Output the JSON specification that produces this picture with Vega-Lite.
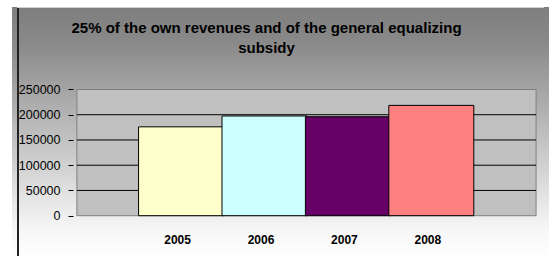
{
  "$schema": "https://vega.github.io/schema/vega-lite/v6.json",
  "width": 537,
  "height": 252,
  "autosize": {"type": "none"},
  "padding": {"left": 12, "top": 7, "right": 0, "bottom": 0},
  "background": "#ffffff",
  "view": {
    "fill": {"gradient": "linear", "x1": 0, "y1": 0, "x2": 0, "y2": 1,
      "stops": [{"offset": 0, "color": "#7e7e7e"}, {"offset": 0.15, "color": "#8a8a8a"}, {"offset": 0.88, "color": "#f6f6f6"}, {"offset": 1, "color": "#ffffff"}]},
    "stroke": null
  },
  "title": {
    "text": ["25% of the own revenues and of the general equalizing", "subsidy"],
    "font": "Liberation Sans",
    "fontSize": 15,
    "fontWeight": "bold",
    "color": "#000000",
    "lineHeight": 20,
    "anchor": "middle",
    "frame": "group",
    "offset": -50,
    "dx": -14
  },
  "layer": [
    {
      "data": {"values": [{}]},
      "mark": {"type": "rect", "fill": "#c0c0c0", "stroke": "#808080", "strokeWidth": 1},
      "encoding": {
        "x": {"datum": 2003.751, "type": "quantitative", "title": null,
          "scale": {"domain": [2003.033, 2009.351], "nice": false, "zero": false},
          "axis": {"values": [2005, 2006, 2007, 2008], "format": "d", "offset": -43, "domain": false, "ticks": false, "grid": false, "labelPadding": 18, "labelFont": "Liberation Sans", "labelColor": "#000000", "labelFontWeight": "bold", "labelFontSize": 12, "labelOffset": -4}},
        "x2": {"datum": 2009.256},
        "y": {"datum": 0, "type": "quantitative", "title": null,
          "scale": {"domain": [-85800, 413400], "nice": false, "zero": false},
          "axis": {"values": [0, 50000, 100000, 150000, 200000, 250000], "format": "d", "offset": -61, "domain": false, "ticks": true, "grid": false, "tickSize": 5, "tickColor": "#000000", "labelPadding": 8, "labelFont": "Liberation Sans", "labelColor": "#000000", "labelFontSize": 12.5}},
        "y2": {"datum": 250000}
      }
    },
    {
      "data": {"values": [{"g": 50000}, {"g": 100000}, {"g": 150000}, {"g": 200000}]},
      "mark": {"type": "rule", "color": "#000000", "strokeWidth": 1},
      "encoding": {
        "y": {"field": "g", "type": "quantitative", "title": null},
        "x": {"datum": 2003.751, "type": "quantitative", "title": null},
        "x2": {"datum": 2009.256}
      }
    },
    {
      "data": {"values": [{}]},
      "mark": {"type": "rule", "color": "#222222", "strokeWidth": 2},
      "encoding": {
        "x": {"datum": 2003.045, "type": "quantitative", "title": null},
        "y": {"datum": -85800, "type": "quantitative", "title": null},
        "y2": {"datum": 413400}
      }
    },
    {
      "data": {"values": [{}]},
      "mark": {"type": "rule", "color": "#d0d0d0", "strokeWidth": 1},
      "encoding": {
        "y": {"datum": 412400, "type": "quantitative", "title": null},
        "x": {"datum": 2003.033, "type": "quantitative", "title": null},
        "x2": {"datum": 2009.351}
      }
    },
    {
      "data": {"values": [
        {"year": 2005, "value": 176000},
        {"year": 2006, "value": 197500},
        {"year": 2007, "value": 196000},
        {"year": 2008, "value": 218500}
      ]},
      "mark": {"type": "bar", "width": 85, "stroke": "#000000", "strokeWidth": 1},
      "encoding": {
        "x": {"field": "year", "type": "quantitative", "title": null},
        "y": {"field": "value", "type": "quantitative", "title": null},
        "color": {"field": "year", "type": "nominal",
          "scale": {"domain": [2005, 2006, 2007, 2008], "range": ["#ffffcc", "#ccffff", "#660066", "#ff8080"]},
          "legend": null}
      }
    }
  ]
}
